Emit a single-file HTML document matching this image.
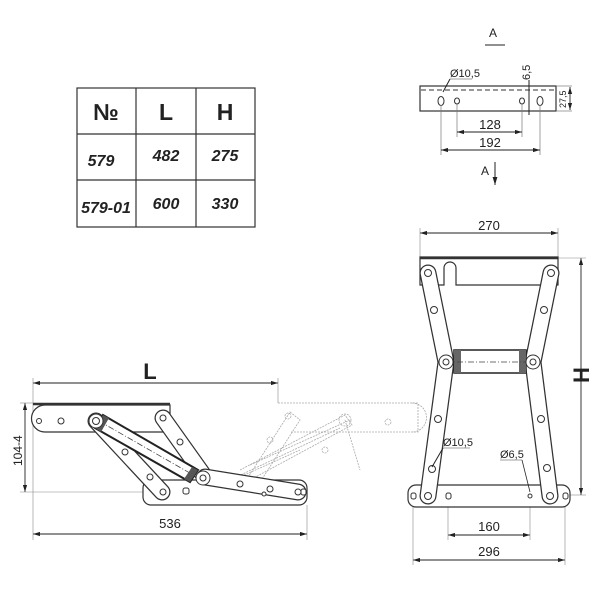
<!DOCTYPE html>
<html><head><meta charset="utf-8"><style>
body{margin:0;background:#fff}
svg{display:block}
text{font-family:"Liberation Sans",sans-serif;fill:#222}
</style></head><body>
<svg width="600" height="600" viewBox="0 0 600 600" xmlns="http://www.w3.org/2000/svg">
<defs>
<marker id="ar" viewBox="0 0 10 6" refX="10" refY="3" markerWidth="8" markerHeight="5" orient="auto-start-reverse"><path d="M0,0L10,3L0,6z" fill="#222"/></marker>
</defs>
<!-- table -->
<g stroke="#333" stroke-width="1.2" fill="none">
<rect x="77" y="88" width="178" height="139"/>
<line x1="136" y1="88" x2="136" y2="227"/><line x1="196" y1="88" x2="196" y2="227"/>
<line x1="77" y1="134" x2="255" y2="134"/><line x1="77" y1="180" x2="255" y2="180"/>
</g>
<g font-size="23" text-anchor="middle" font-weight="bold"><text x="106" y="120">№</text><text x="166" y="120">L</text><text x="225" y="120">H</text></g>
<g font-size="16" font-style="italic" font-weight="bold" text-anchor="middle">
<text x="101" y="166">579</text><text x="166" y="161">482</text><text x="225" y="161">275</text>
<text x="106" y="213">579-01</text><text x="166" y="209">600</text><text x="225" y="209">330</text></g>

<!-- view A -->
<text x="493" y="37" font-size="12" text-anchor="middle">A</text>
<line x1="485" y1="45" x2="505" y2="45" stroke="#222"/>
<rect x="420" y="86" width="136" height="25" fill="#fff" stroke="#333" stroke-width="1.2"/>
<line x1="421" y1="90" x2="555" y2="90" stroke="#333" stroke-dasharray="5,3"/>
<g fill="#fff" stroke="#333"><ellipse cx="441" cy="101" rx="3" ry="4.5"/><ellipse cx="457" cy="101" rx="2.5" ry="3"/><ellipse cx="522" cy="101" rx="2.5" ry="3"/><ellipse cx="540" cy="101" rx="3" ry="4.5"/></g>
<g stroke="#777" stroke-width="0.7"><line x1="441" y1="105" x2="441" y2="155"/><line x1="540" y1="105" x2="540" y2="155"/><line x1="457" y1="104" x2="457" y2="137"/><line x1="522" y1="104" x2="522" y2="137"/><line x1="556" y1="86" x2="572" y2="86"/><line x1="556" y1="111" x2="572" y2="111"/></g>
<g stroke="#222" stroke-width="0.9" marker-start="url(#ar)" marker-end="url(#ar)"><line x1="457" y1="132" x2="522" y2="132"/><line x1="441" y1="150" x2="540" y2="150"/><line x1="570" y1="87" x2="570" y2="110"/></g>
<line x1="529" y1="80" x2="529" y2="115" stroke="#222"/>
<text x="490" y="129" font-size="13" text-anchor="middle">128</text>
<text x="490" y="147" font-size="13" text-anchor="middle">192</text>
<text x="450" y="77" font-size="11">Ø10,5</text><line x1="450" y1="79" x2="472" y2="79" stroke="#444" stroke-width="0.6"/><line x1="450" y1="79" x2="443" y2="92" stroke="#222"/>
<text transform="translate(530,80) rotate(-90)" font-size="11">6,5</text>
<text transform="translate(566,108) rotate(-90)" font-size="9">27,5</text>
<text x="485" y="175" font-size="12" text-anchor="middle">A</text>
<line x1="495" y1="162" x2="495" y2="185" stroke="#222" marker-end="url(#ar)"/>

<!-- right view -->
<g stroke="#222" stroke-width="0.9" marker-start="url(#ar)" marker-end="url(#ar)">
<line x1="420" y1="233" x2="558" y2="233"/><line x1="581" y1="258" x2="581" y2="495"/><line x1="448" y1="535" x2="530" y2="535"/><line x1="413" y1="560" x2="565" y2="560"/></g>
<g stroke="#888" stroke-width="0.6"><line x1="420" y1="228" x2="420" y2="257"/><line x1="558" y1="228" x2="558" y2="257"/><line x1="558" y1="258" x2="586" y2="258"/><line x1="570" y1="495" x2="586" y2="495"/><line x1="448" y1="500" x2="448" y2="540"/><line x1="530" y1="500" x2="530" y2="540"/><line x1="413" y1="500" x2="413" y2="565"/><line x1="565" y1="500" x2="565" y2="565"/></g>
<text x="489" y="230" font-size="13" text-anchor="middle">270</text>
<text x="489" y="531" font-size="13" text-anchor="middle">160</text>
<text x="489" y="556" font-size="13" text-anchor="middle">296</text>
<text transform="translate(589,375) rotate(-90)" font-size="22" font-weight="bold" text-anchor="middle">H</text>
<path d="M420,257H558V285H456V268A4,4 0 0 0 444,268V285H420Z" fill="#fff" stroke="#333" stroke-width="1.2"/>
<line x1="420" y1="258" x2="558" y2="258" stroke="#333" stroke-width="2.5"/>
<rect x="408" y="485" width="162" height="22" rx="8" fill="#fff" stroke="#333" stroke-width="1.2"/>
<g stroke-linecap="round">
<polyline points="428,273 446,362 428,496" fill="none" stroke="#333" stroke-width="17"/>
<polyline points="428,273 446,362 428,496" fill="none" stroke="#fff" stroke-width="14.5"/>
<polyline points="551,273 533,362 550,496" fill="none" stroke="#333" stroke-width="17"/>
<polyline points="551,273 533,362 550,496" fill="none" stroke="#fff" stroke-width="14.5"/>
</g>
<rect x="454" y="350" width="72" height="23" fill="#fff" stroke="#222" stroke-width="1.5"/>
<rect x="454" y="350" width="7" height="23" fill="#666"/><rect x="519" y="350" width="7" height="23" fill="#666"/>
<line x1="446" y1="362" x2="534" y2="362" stroke="#444" stroke-dasharray="6,2,1,2" stroke-width="0.8"/>
<g fill="#fff" stroke="#333"><circle cx="446" cy="362" r="7"/><circle cx="533" cy="362" r="7"/></g>
<g fill="#fff" stroke="#333">
<circle cx="428" cy="273" r="3.5"/><circle cx="551" cy="273" r="3.5"/><circle cx="434" cy="310" r="3.5"/><circle cx="544" cy="310" r="3.5"/>
<circle cx="446" cy="362" r="3"/><circle cx="533" cy="362" r="3"/><circle cx="438" cy="419" r="3.5"/><circle cx="541" cy="419" r="3.5"/>
<circle cx="432" cy="469" r="3.5"/><circle cx="547" cy="468" r="3.5"/><circle cx="428" cy="496" r="3.5"/><circle cx="550" cy="496" r="3.5"/>
<circle cx="530" cy="496" r="2"/><rect x="411" y="493" width="5" height="6" rx="2"/><rect x="446" y="493" width="5" height="6" rx="2"/><rect x="563" y="493" width="5" height="6" rx="2"/></g>
<text x="443" y="446" font-size="11">Ø10,5</text><line x1="443" y1="448" x2="470" y2="448" stroke="#444" stroke-width="0.6"/><line x1="443" y1="448" x2="432" y2="467" stroke="#222"/>
<text x="500" y="458" font-size="11">Ø6,5</text><line x1="500" y1="460" x2="522" y2="460" stroke="#444" stroke-width="0.6"/><line x1="522" y1="460" x2="530" y2="492" stroke="#222" stroke-width="0.8"/>

<!-- left view ghost -->
<g fill="none" stroke="#aaa" stroke-width="0.8" stroke-dasharray="2,1">
<path d="M278,403H418V432H290"/>
<path d="M412,403A14,14 0 0 1 412,432"/>
<path d="M290,412L300,420L255,490L245,482Z"/>
<path d="M240,470L345,415L352,425L250,480"/>
<path d="M250,465L350,420"/><path d="M230,480L340,428"/><path d="M200,495L300,450"/>
<path d="M345,420L360,470"/>
<circle cx="288" cy="416" r="3"/><circle cx="270" cy="440" r="3"/><circle cx="388" cy="422" r="3"/><circle cx="345" cy="420" r="6"/><circle cx="325" cy="450" r="3"/>
</g>
<!-- left view dims -->
<g stroke="#222" stroke-width="0.9" marker-start="url(#ar)" marker-end="url(#ar)"><line x1="33" y1="383" x2="278" y2="383"/><line x1="25" y1="403" x2="25" y2="492"/><line x1="33" y1="534" x2="307" y2="534"/></g>
<g stroke="#888" stroke-width="0.6"><line x1="33" y1="378" x2="33" y2="540"/><line x1="278" y1="378" x2="278" y2="403"/><line x1="307" y1="505" x2="307" y2="540"/><line x1="20" y1="403" x2="33" y2="403"/><line x1="20" y1="492" x2="143" y2="492"/></g>
<text x="150" y="379" font-size="22" font-weight="bold" text-anchor="middle">L</text>
<text x="170" y="528" font-size="13" text-anchor="middle">536</text>
<text transform="translate(22,466) rotate(-90)" font-size="12">104-4</text>
<!-- left view parts -->
<path d="M45,405H170V432H45A13.5,13.5 0 0 1 45,405Z" fill="#fff" stroke="#333" stroke-width="1.2"/>
<line x1="33" y1="404" x2="170" y2="404" stroke="#333" stroke-width="2.5"/>
<rect x="143" y="480" width="164" height="25" rx="8" fill="#fff" stroke="#333" stroke-width="1.2"/>
<g stroke-linecap="round" fill="none">
<line x1="96" y1="421" x2="162" y2="492" stroke="#333" stroke-width="17"/><line x1="96" y1="421" x2="162" y2="492" stroke="#fff" stroke-width="14.5"/>
<line x1="163" y1="418" x2="205" y2="477" stroke="#333" stroke-width="17"/><line x1="163" y1="418" x2="205" y2="477" stroke="#fff" stroke-width="14.5"/>
<line x1="205" y1="477" x2="298" y2="492" stroke="#333" stroke-width="17"/><line x1="205" y1="477" x2="298" y2="492" stroke="#fff" stroke-width="14.5"/>
</g>
<path d="M103,415L198,470L190,482L95,428Z" fill="#fff" stroke="#222" stroke-width="2"/>
<line x1="99" y1="421" x2="195" y2="476" stroke="#444" stroke-dasharray="6,2,1,2" stroke-width="0.8"/>
<path d="M103,415L109,418L101,432L95,428Z" fill="#555"/><path d="M192,467L198,470L190,482L184,479Z" fill="#555"/>
<g fill="#fff" stroke="#333">
<circle cx="96" cy="421" r="7"/><circle cx="96" cy="421" r="3.5"/><circle cx="203" cy="478" r="7"/><circle cx="203" cy="478" r="3"/>
<circle cx="39" cy="421" r="2.5"/><circle cx="61" cy="421" r="3"/><circle cx="163" cy="418" r="3"/><circle cx="180" cy="442" r="3"/>
<circle cx="125" cy="452" r="3"/><circle cx="150" cy="477" r="3"/><circle cx="163" cy="492" r="3"/><circle cx="240" cy="484" r="3"/>
<circle cx="270" cy="489" r="3"/><circle cx="298" cy="492" r="3"/><circle cx="264" cy="494" r="2"/>
<rect x="183" y="488" width="6" height="6" rx="2"/><rect x="301" y="489" width="5" height="6" rx="2"/></g>
</svg>
</body></html>
